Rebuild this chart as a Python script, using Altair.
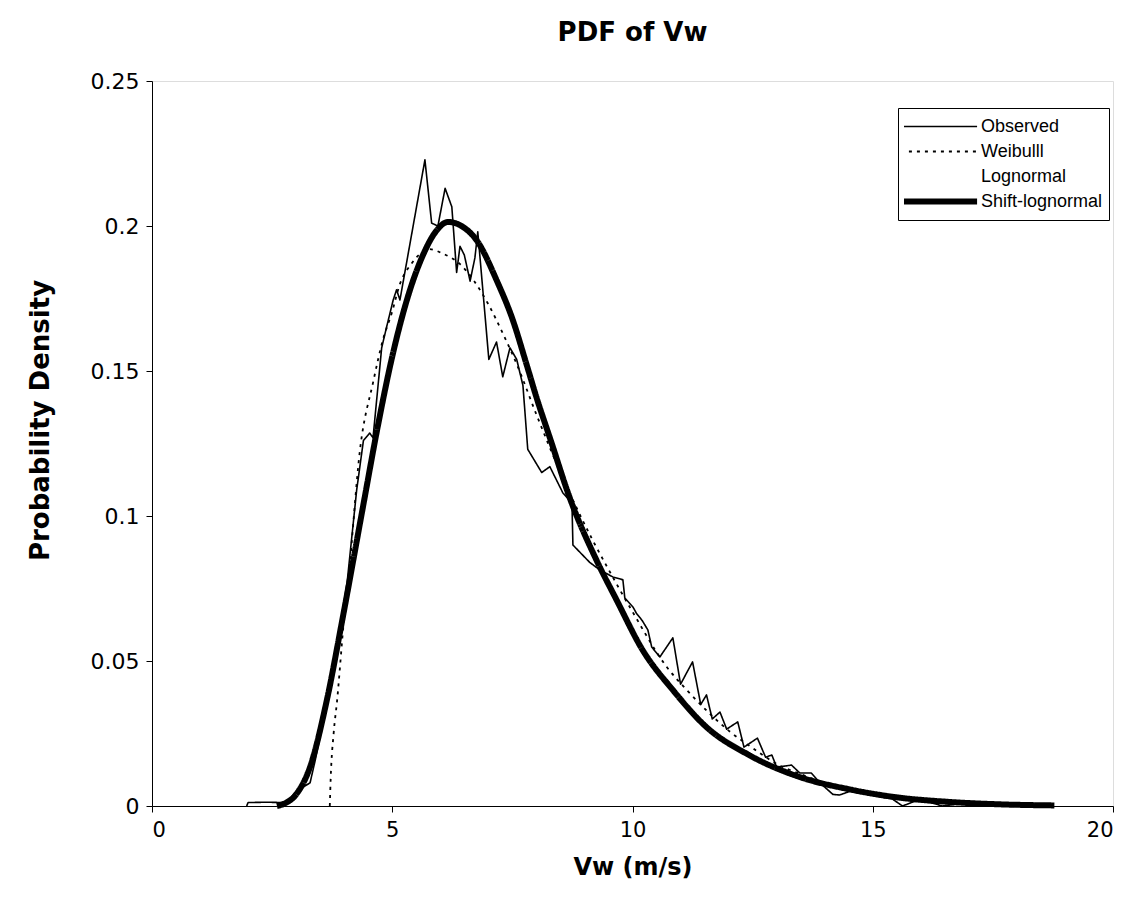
import altair as alt
import pandas as pd

# Observed (empirical) PDF
obs_x = [1.97, 2.0, 2.4, 2.7, 2.85, 3.0, 3.29, 3.4, 3.6, 3.8, 4.06, 4.26, 4.40, 4.53, 4.60,
         4.78, 4.88, 5.02, 5.09, 5.16, 5.68, 5.82, 5.95, 6.10, 6.24, 6.34, 6.41, 6.50, 6.62,
         6.72, 6.78, 6.89, 7.01, 7.17, 7.30, 7.45, 7.59, 7.72, 7.82, 8.11, 8.28, 8.55, 8.74,
         8.76, 9.11, 9.32, 9.59, 9.80, 9.84, 10.01, 10.08, 10.20, 10.32, 10.40, 10.57, 10.84,
         11.0, 11.25, 11.42, 11.54, 11.66, 11.82, 11.96, 12.19, 12.32, 12.60, 12.77, 12.9,
         13.0, 13.31, 13.48, 13.72, 13.9, 14.17, 14.31, 14.6, 14.9, 15.2, 15.4, 15.62, 15.9,
         16.2, 16.45, 16.7]
obs_y = [0.0, 0.0012, 0.0013, 0.0012, 0.002, 0.005, 0.008, 0.016, 0.032, 0.050, 0.077, 0.109,
         0.126, 0.1286, 0.127, 0.158, 0.165, 0.1745, 0.178, 0.1745, 0.2228, 0.201, 0.200, 0.213,
         0.2066, 0.184, 0.193, 0.190, 0.181, 0.189, 0.198, 0.177, 0.154, 0.160, 0.148, 0.158,
         0.154, 0.145, 0.123, 0.115, 0.117, 0.108, 0.1045, 0.090, 0.084, 0.0814, 0.079, 0.078,
         0.0717, 0.0686, 0.0665, 0.064, 0.0607, 0.0548, 0.0514, 0.058, 0.042, 0.0497, 0.035,
         0.0383, 0.030, 0.0324, 0.0265, 0.029, 0.0203, 0.0234, 0.0168, 0.0176, 0.0134, 0.0141,
         0.0114, 0.0114, 0.008, 0.0040, 0.0038, 0.0055, 0.0042, 0.003, 0.0025, 0.0, 0.0018,
         0.0012, 0.0, 0.0005]

# Weibull fit
wei_x = [3.70, 3.72, 3.78, 3.85, 4.0, 4.08, 4.33, 4.6, 4.81, 4.99, 5.16, 5.4, 5.78, 6.05, 6.4,
         7.0, 7.3, 7.6, 8.0, 8.5, 9.17, 9.47, 10.0, 10.71, 11.13, 11.6, 12.0, 12.5, 13.0, 13.5,
         14.0, 15.0, 16.0, 17.0, 18.75]
wei_y = [0.0, 0.010, 0.025, 0.036, 0.065, 0.077, 0.123, 0.146, 0.161, 0.170, 0.180, 0.187,
         0.192, 0.1905, 0.187, 0.173, 0.163, 0.152, 0.135, 0.115, 0.0917, 0.0825, 0.067, 0.048,
         0.040, 0.032, 0.026, 0.020, 0.0145, 0.011, 0.008, 0.0043, 0.002, 0.001, 0.0003]

# Lognormal fit (not visible in the reference: drawn in white, underneath)
log_x = [2.6, 3.0, 3.5, 4.0, 4.5, 5.0, 5.5, 6.0, 6.5, 7.0, 7.5, 8.0, 9.0, 10.0, 11.0, 12.0,
         13.0, 14.0, 15.0, 16.0, 17.0, 18.0, 18.78]
log_y = [0.0, 0.004, 0.027, 0.068, 0.112, 0.153, 0.183, 0.199, 0.200, 0.187, 0.168, 0.142,
         0.093, 0.061, 0.039, 0.025, 0.016, 0.010, 0.0063, 0.0038, 0.0022, 0.0011, 0.0004]

# Shift-lognormal fit
sln_x = [2.6, 2.75, 3.0, 3.29, 3.64, 3.97, 4.4, 4.7, 5.0, 5.37, 5.64, 5.93, 6.16, 6.47, 6.76,
         7.18, 7.5, 7.8, 8.0, 8.3, 8.7, 9.25, 9.67, 10.21, 10.84, 11.54, 12.4, 13.48, 14.5,
         15.5, 16.6, 17.6, 18.78]
sln_y = [0.0, 0.0008, 0.004, 0.0135, 0.0366, 0.065, 0.104, 0.131, 0.155, 0.178, 0.190, 0.1986,
         0.2014, 0.1997, 0.195, 0.181, 0.168, 0.152, 0.141, 0.126, 0.106, 0.0848, 0.071, 0.0538,
         0.040, 0.0272, 0.0178, 0.010, 0.0058, 0.003, 0.0014, 0.0006, 0.0002]

series_names = ["Observed", "Weibulll", "Lognormal", "Shift-lognormal"]
series_widths = [1.6, 1.8, 1.0, 6.0]


def frame(xs, ys, name):
    return pd.DataFrame({"v": xs, "p": ys, "series": name, "idx": range(len(xs))})


FONT = "DejaVu Sans"
LFONT = "Liberation Sans"

x_enc = alt.X("v:Q", scale=alt.Scale(domain=[0, 20], nice=False),
              axis=alt.Axis(values=[0, 5, 10, 15, 20], title="Vw (m/s)", grid=False,
                            labelFontSize=21, titleFontSize=24, titleFontWeight="bold",
                            tickSize=6, labelPadding=7, titlePadding=15,
                            domainColor="black", tickColor="black", labelColor="black",
                            titleColor="black", labelFont=FONT, titleFont=FONT))
y_enc = alt.Y("p:Q", scale=alt.Scale(domain=[0, 0.25], nice=False),
              axis=alt.Axis(values=[0, 0.05, 0.1, 0.15, 0.2, 0.25], title="Probability Density",
                            format=".2~f", grid=False, labelFontSize=22, titleFontSize=26,
                            titleFontWeight="bold", tickSize=6, labelPadding=7,
                            titleX=-112, titleY=339, titleBaseline="middle", titleAngle=270,
                            domainColor="black", tickColor="black", labelColor="black",
                            titleColor="black", labelFont=FONT, titleFont=FONT))

width_expr = " : ".join(
    f"datum.label === '{n}' ? {w}" for n, w in zip(series_names, series_widths)) + " : 1.6"

leg = dict(title=None, orient="none", legendX=746, legendY=27,
           symbolType="stroke", symbolSize=5800, clipHeight=25,
           labelFont=LFONT, labelFontSize=18, labelColor="black",
           strokeColor="black", fillColor="white", padding=6,
           labelOffset=33, rowPadding=0, symbolOffset=26,
           symbolStrokeWidth=alt.ExprRef(width_expr))

color = alt.Color("series:N", sort=series_names,
                  scale=alt.Scale(domain=series_names, range=["black", "black", "white", "black"]),
                  legend=alt.Legend(**leg))
dash = alt.StrokeDash("series:N", sort=series_names,
                      scale=alt.Scale(domain=series_names,
                                      range=[[1, 0], [3, 5], [1, 0], [1, 0]]),
                      legend=alt.Legend(**leg))


def layer(xs, ys, name, interp):
    w = series_widths[series_names.index(name)]
    return alt.Chart(frame(xs, ys, name)).mark_line(
        strokeWidth=w, strokeCap="butt", strokeJoin="round", interpolate=interp).encode(
        x=x_enc, y=y_enc, color=color, strokeDash=dash, order="idx:Q")


chart = alt.layer(
    layer(log_x, log_y, "Lognormal", "monotone"),
    layer(wei_x, wei_y, "Weibulll", "monotone"),
    layer(obs_x, obs_y, "Observed", "linear"),
    layer(sln_x, sln_y, "Shift-lognormal", "monotone"),
).properties(
    width=961, height=725,
    title=alt.TitleParams("PDF of Vw", fontSize=26, font=FONT, fontWeight="bold",
                          color="black", offset=24, anchor="middle"),
    autosize=alt.AutoSizeParams(type="none"),
    padding={"left": 144, "top": 73, "right": 10, "bottom": 90},
).configure_view(stroke="#333", strokeWidth=1).configure(background="white")

chart.save("out.html", embed_options={"renderer": "svg", "actions": False})
